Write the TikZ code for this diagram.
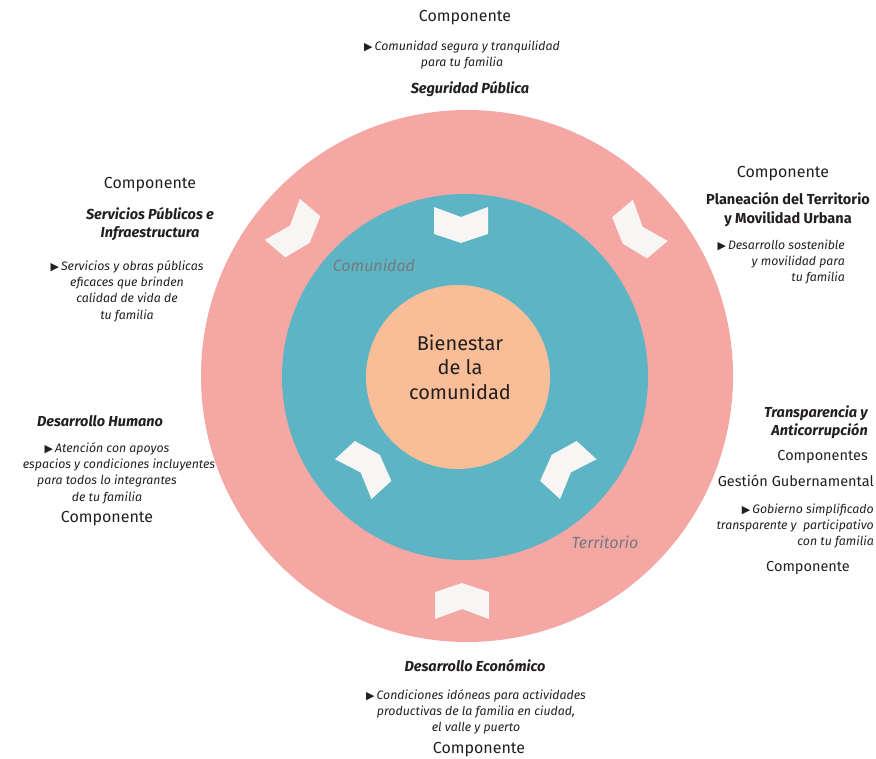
\documentclass[tikz,border=0pt]{standalone}
\usepackage{fontspec}
\setmainfont{Fira Sans}
\newfontfamily\symfont{DejaVu Sans}
\definecolor{ringpink}{RGB}{245,167,164}
\definecolor{ringteal}{RGB}{92,180,196}
\definecolor{coreorange}{RGB}{249,190,152}
\definecolor{chevfill}{RGB}{248,246,244}
\definecolor{txt}{RGB}{35,31,32}
\definecolor{lblgray}{RGB}{118,122,128}
\newcommand{\tri}{{\symfont\fontsize{11}{11}\selectfont ▶}\,}
\tikzset{
  x=1pt, y=1pt,
  every node/.style={inner sep=0pt, text=txt},
  comp/.style={font=\fontsize{16}{19}\selectfont},
  compsm/.style={font=\fontsize{14.5}{18}\selectfont},
  ttl/.style={font=\fontsize{14.5}{18.5}\selectfont\bfseries\itshape},
  ttlup/.style={font=\fontsize{14.5}{19}\selectfont\bfseries},
  desc/.style={font=\fontsize{12.3}{16.3}\selectfont\itshape},
  ringlbl/.style={font=\fontsize{16}{16}\selectfont\itshape, text=lblgray},
  chev/.pic={\fill[chevfill] (-27,18) -- (0,8) -- (27,18) -- (27,-9) -- (0,-18) -- (-27,-9) -- cycle;}
}
\begin{document}
\begin{tikzpicture}
\useasboundingbox (0,0) rectangle (876,-759);
% rings
\fill[ringpink] (467,-376) circle (266);
\fill[ringteal] (465,-377) circle (183);
\fill[coreorange] (458,-377) circle (92);
% chevrons
\pic[rotate=0] at (461,-225) {chev};
\pic[rotate=132.5] at (366.5,-467) {chev};
\pic[rotate=-132.5] at (565,-467) {chev};
\pic[rotate=49.5] at (296,-231) {chev};
\pic[rotate=-49.8] at (636.5,-232) {chev};
\pic[rotate=180] at (462,-601) {chev};
% ring labels
\node[ringlbl] (lcom) at (374,-265) {Comunidad};
\node[ringlbl] (lter) at (605,-542) {Territorio};
% center
\node[font=\fontsize{20}{24.5}\selectfont, align=center] (core) at (460,-367) {Bienestar\\de la\\comunidad};
% top
\node[comp] (c1) at (465,-18) {Componente};
\node[desc, align=center] (d1) at (462,-55) {\tri Comunidad segura y tranquilidad\\para tu familia};
\node[ttl] (t1) at (470,-89) {Seguridad Pública};
% top-left
\node[comp] (c2) at (150,-185) {Componente};
\node[ttl, align=center] (t2) at (150,-224) {Servicios Públicos e\\Infraestructura};
\node[desc, align=center] (d2) at (127,-291) {\tri Servicios y obras públicas\\eficaces que brinden\\calidad de vida de\\tu familia};
% top-right
\node[comp] (c3) at (783,-174) {Componente};
\node[ttlup, align=center] (t3) at (788,-210) {Planeación del Territorio\\y Movilidad Urbana};
\node[desc, align=right, anchor=east] (d3) at (845,-262) {\tri Desarrollo sostenible\\y movilidad para\\tu familia};
% left middle
\node[ttl] (t4) at (100,-421) {Desarrollo Humano};
\node[desc, align=center] (d4) at (107,-473) {\tri Atención con apoyos\\\hspace*{24pt}espacios y condiciones incluyentes\\para todos lo integrantes\\de tu familia};
\node[comp] (c4) at (107,-519) {Componente};
% right middle
\node[ttl, align=right, anchor=east] (t5) at (868,-422) {Transparencia y\\Anticorrupción};
\node[compsm, anchor=east] (c5a) at (868,-457) {Componentes};
\node[compsm, anchor=east] (c5b) at (874,-481) {Gestión Gubernamental};
\node[desc, align=right, anchor=east] (d5) at (874,-526) {\tri Gobierno simplificado\\transparente y \ participativo\\con tu familia};
\node[compsm] (c5) at (808,-568) {Componente};
% bottom
\node[ttl] (t6) at (475,-666) {Desarrollo Económico};
\node[desc, align=center] (d6) at (476,-712) {\tri Condiciones idóneas para actividades\\productivas de la familia en ciudad,\\el valle y puerto};
\node[comp] (c6) at (479,-750) {Componente};
\end{tikzpicture}
\end{document}
